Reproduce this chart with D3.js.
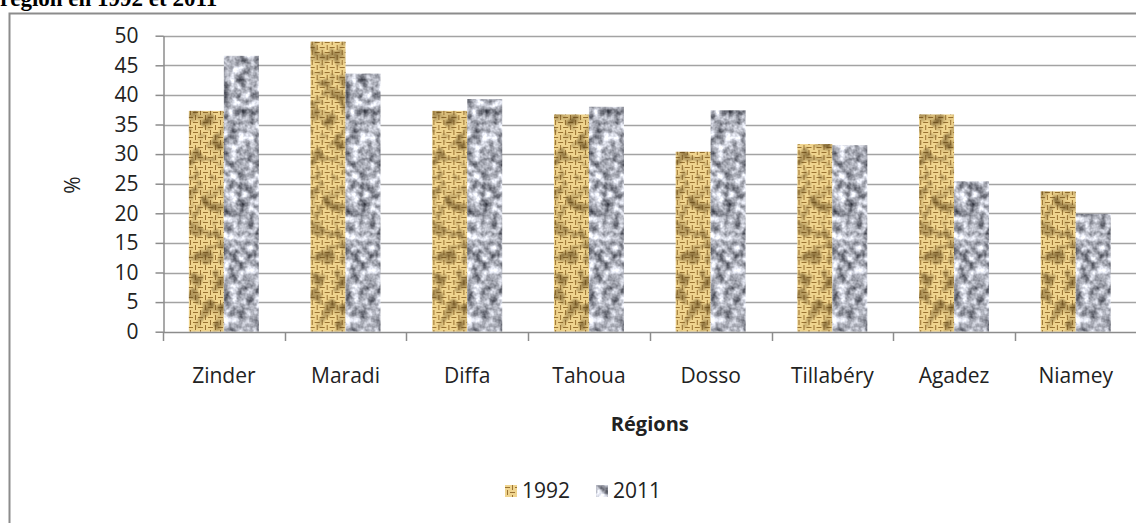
<!DOCTYPE html>
<html>
<head>
<meta charset="utf-8">
<script src="https://cdn.jsdelivr.net/npm/d3@7"></script>
<style>
  body { margin: 0; background: white; }
  svg { display: block; }
</style>
</head>
<body>
<svg width="1136" height="523"></svg>
<script>
// chart data
const regions = ["Zinder", "Maradi", "Diffa", "Tahoua", "Dosso", "Tillabéry", "Agadez", "Niamey"]
const years = ["1992", "2011"]
const values1992 = [37.3, 49.0, 37.3, 36.7, 30.4, 31.7, 36.7, 23.7]
const values2011 = [46.6, 43.6, 39.3, 38.0, 37.4, 31.5, 25.4, 19.9]
const yTicks = [0, 5, 10, 15, 20, 25, 30, 35, 40, 45, 50]

const rows = regions.map((r, i) => ({ region: r, "1992": values1992[i], "2011": values2011[i] }))

const svg = d3.select("svg")
const font = "'Open Sans', sans-serif"

// textures
const defs = svg.append("defs")

// burlap weave tile
const weave = defs.append("pattern")
  .attr("id", "burlap")
  .attr("patternUnits", "userSpaceOnUse")
  .attr("width", 10).attr("height", 10)
weave.append("rect").attr("width", 10).attr("height", 10).attr("fill", "#9a7232")
const strips = [
  // [x, y, w, h]
  [0, 0, 5, 2], [0, 3, 5, 2],
  [5, 0, 2, 5], [8, 0, 2, 5],
  [0, 5, 2, 5], [3, 5, 2, 5],
  [5, 5, 5, 2], [5, 8, 5, 2]
]
weave.selectAll("rect.s").data(strips).enter().append("rect")
  .attr("class", "s")
  .attr("x", d => d[0]).attr("y", d => d[1])
  .attr("width", d => d[2]).attr("height", d => d[3])
  .attr("fill", "#efd48e")

// dark mottling over burlap
const mottle = defs.append("filter").attr("id", "mottle")
  .attr("x", 0).attr("y", 0).attr("width", 1).attr("height", 1)
  .attr("color-interpolation-filters", "sRGB")
mottle.append("feTurbulence")
  .attr("type", "fractalNoise").attr("baseFrequency", 0.08)
  .attr("numOctaves", 2).attr("seed", 7).attr("result", "n")
mottle.append("feColorMatrix").attr("in", "n").attr("type", "matrix")
  .attr("values", "0 0 0 0 0.32  0 0 0 0 0.22  0 0 0 0 0.06  -2.6 0 0 0 1.45")
  .attr("result", "c")
mottle.append("feComposite").attr("in", "c").attr("in2", "SourceGraphic").attr("operator", "in")

// granite for 2011
const granite = defs.append("filter").attr("id", "granite")
  .attr("x", 0).attr("y", 0).attr("width", 1).attr("height", 1)
  .attr("color-interpolation-filters", "sRGB")
granite.append("feTurbulence")
  .attr("type", "fractalNoise").attr("baseFrequency", 0.12)
  .attr("numOctaves", 3).attr("seed", 3).attr("result", "n")
granite.append("feColorMatrix").attr("in", "n").attr("type", "matrix")
  .attr("values", "1.25 0 0 0 0.05  1.25 0 0 0 0.06  1.25 0 0 0 0.1  0 0 0 0 1")
  .attr("result", "c")
granite.append("feComposite").attr("in", "c").attr("in2", "SourceGraphic").attr("operator", "in")

// outer frame + title (cut at top like the source)
svg.append("text")
  .attr("x", 0).attr("y", 6)
  .style("font-family", "'Liberation Serif', serif")
  .style("font-weight", "bold").style("font-size", "23px")
  .text("région en 1992 et 2011")

svg.append("rect")
  .attr("x", 9.5).attr("y", 13.5)
  .attr("width", 1140).attr("height", 600)
  .attr("fill", "none").attr("stroke", "#8c8c8c").attr("stroke-width", 2)

// scales
const x = d3.scaleBand().domain(regions).range([163, 1136.6])
const x1 = d3.scaleBand().domain(years).range([0, x.bandwidth()]).paddingOuter(0.74)
const y = d3.scaleLinear().domain([0, 50]).range([331.7, 35.7])

// gridlines
svg.append("g").selectAll("line")
  .data(yTicks.filter(t => t > 0)).enter().append("line")
  .attr("x1", 163).attr("x2", 1136)
  .attr("y1", d => Math.round(y(d)) + 0.5).attr("y2", d => Math.round(y(d)) + 0.5)
  .attr("stroke", "#a3a3a3").attr("stroke-width", 1.6)

// bars
const groups = svg.append("g").selectAll("g")
  .data(rows).enter().append("g")
  .attr("transform", d => `translate(${x(d.region)},0)`)

groups.append("rect")
  .attr("x", x1("1992")).attr("width", x1.bandwidth())
  .attr("y", d => y(d["1992"])).attr("height", d => y(0) - y(d["1992"]))
  .attr("fill", "url(#burlap)")
groups.append("rect")
  .attr("x", x1("1992")).attr("width", x1.bandwidth())
  .attr("y", d => y(d["1992"])).attr("height", d => y(0) - y(d["1992"]))
  .attr("fill", "#000").attr("filter", "url(#mottle)").attr("opacity", 0.7)

groups.append("rect")
  .attr("x", x1("2011")).attr("width", x1.bandwidth())
  .attr("y", d => y(d["2011"])).attr("height", d => y(0) - y(d["2011"]))
  .attr("fill", "#999").attr("filter", "url(#granite)")

// y axis
const yAxis = svg.append("g")
  .attr("transform", "translate(163.5,0)")
  .call(d3.axisLeft(y).tickValues(yTicks).tickSize(8).tickPadding(17).tickSizeOuter(0))
yAxis.select(".domain").attr("stroke", "#8c8c8c").attr("stroke-width", 1.5)
yAxis.selectAll(".tick line").attr("stroke", "#8c8c8c").attr("stroke-width", 1.5)
yAxis.selectAll("text")
  .style("font-family", font).style("font-size", "21px").attr("fill", "#222")

// x axis
const xAxis = svg.append("g")
  .attr("transform", "translate(0,332)")
  .call(d3.axisBottom(x).tickSize(0).tickPadding(36).tickSizeOuter(0))
xAxis.select(".domain").attr("stroke", "#8c8c8c").attr("stroke-width", 1.5)
xAxis.selectAll("text")
  .style("font-family", font).style("font-size", "21px").attr("fill", "#222")

// category boundary ticks
xAxis.selectAll("line.sep")
  .data(regions).enter().append("line")
  .attr("class", "sep")
  .attr("x1", d => Math.round(x(d)) + 0.5).attr("x2", d => Math.round(x(d)) + 0.5)
  .attr("y1", 0).attr("y2", 9)
  .attr("stroke", "#8c8c8c").attr("stroke-width", 1.5)

// axis titles
svg.append("text")
  .attr("transform", "translate(80,185) rotate(-90)")
  .attr("text-anchor", "middle")
  .style("font-family", font).style("font-size", "21px").attr("fill", "#222")
  .text("%")

svg.append("text")
  .attr("x", (x.range()[0] + x.range()[1]) / 2).attr("y", 431)
  .attr("text-anchor", "middle")
  .style("font-family", font).style("font-size", "20px").style("font-weight", "bold")
  .attr("fill", "#222")
  .text("Régions")

// legend
const legendX = [505, 596]
const legend = svg.append("g").selectAll("g")
  .data(years).enter().append("g")
  .attr("transform", (d, i) => `translate(${legendX[i]},485)`)
legend.append("rect")
  .attr("width", 12).attr("height", 12)
  .attr("fill", d => d === "1992" ? "url(#burlap)" : "#999")
  .attr("filter", d => d === "1992" ? null : "url(#granite)")
legend.append("text")
  .attr("x", 17).attr("y", 6).attr("dy", "0.35em")
  .style("font-family", font).style("font-size", "21px").attr("fill", "#222")
  .text(d => d)
</script>
</body>
</html>
